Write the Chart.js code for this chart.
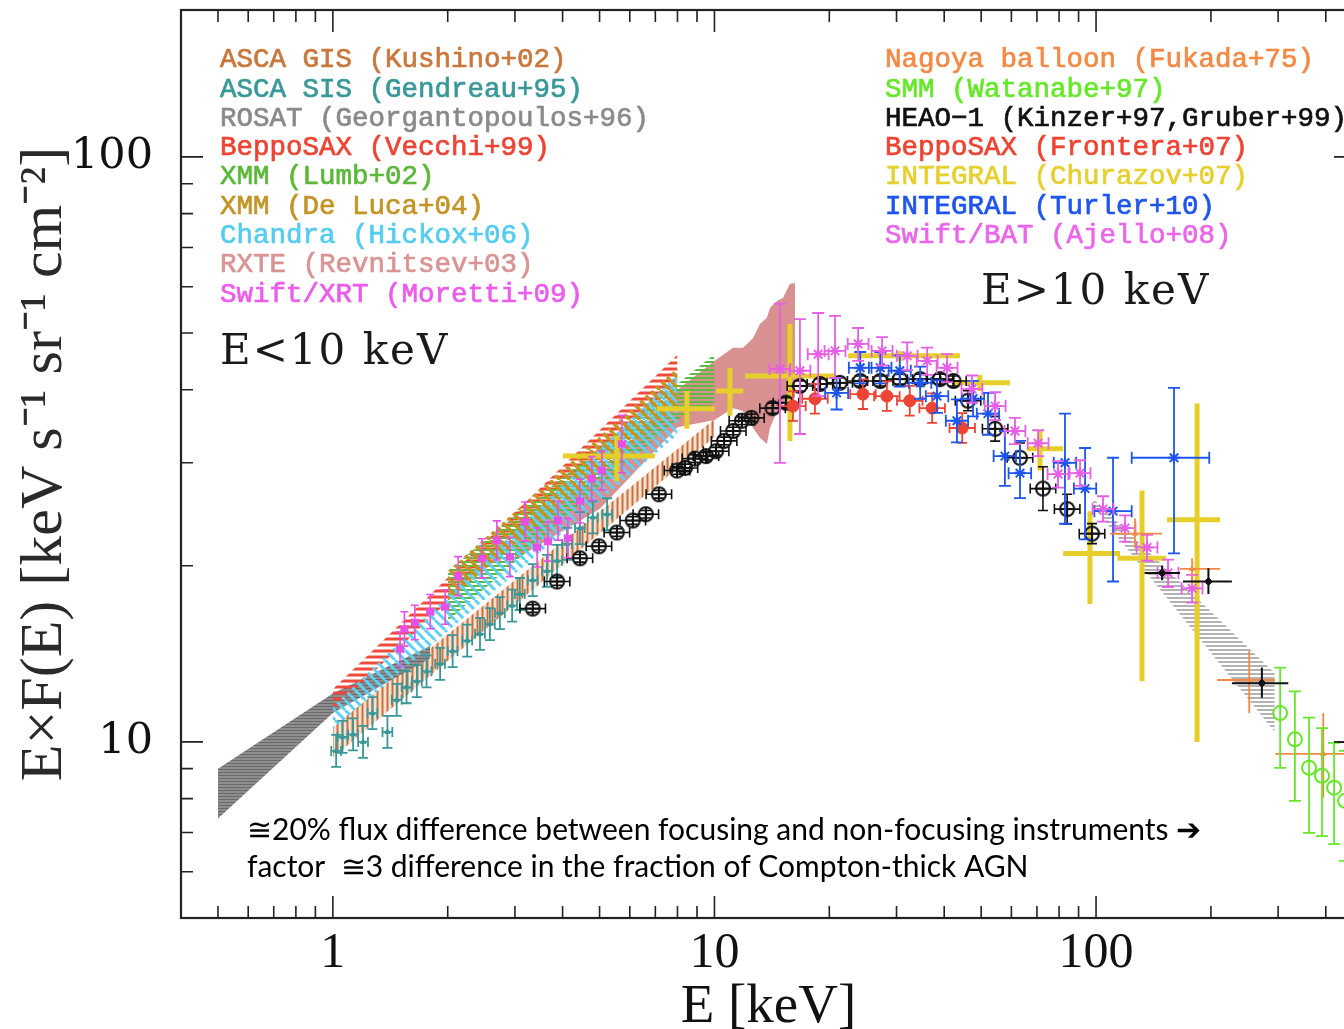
<!DOCTYPE html>
<html>
<head>
<meta charset="utf-8">
<script src="https://cdn.jsdelivr.net/npm/chart.js@4.4.1/dist/chart.umd.min.js"></script>
<style>
  html, body { margin: 0; padding: 0; background: #fff; overflow: hidden; width: 1344px; height: 1029px; }
  canvas { display: block; }
</style>
</head>
<body>
<canvas id="cxb" width="1370" height="1029" style="width:1370px;height:1029px"></canvas>
<script>
// ---- axis ticks ----
const xTicks = [0.5,0.6,0.7,0.8,0.9,1,2,3,4,5,6,7,8,9,10,20,30,40,50,60,70,80,90,100,200,300,400];
const xLabels = [1, 10, 100];
const yTicks = [6,7,8,9,10,20,30,40,50,60,70,80,90,100];
const yLabels = [10, 100];
const xRange = [0.4, 480];
const yRange = [5, 178.3];

// ---- bands (energy keV, lower / upper E F(E)) ----
const rosatE = [0.5, 1.0, 1.8];
const rosatLo = [7.4, 11.2, 13.9];
const rosatHi = [9.0, 12.1, 14.6];

const rxteE = [3, 5, 8, 10, 11.18, 11.88, 12.62, 13.16, 13.72, 13.98, 14.58, 15.12, 15.77, 16.26];
const rxteLo = [20.5, 25.0, 34.5, 35.5, 37.2, 36.8, 34.4, 33.1, 32.3, 34.4, 36.8, 37.8, 38.7, 38.7];
const rxteHi = [23.0, 28.5, 40.0, 44.8, 47.2, 47.2, 49.0, 51.8, 53.1, 55.2, 56.7, 57.4, 60.7, 60.9];

const gisE = [1, 10];
const gisLo = [9.4, 33.2];
const gisHi = [10.6, 35.6];

const vecchiE = [1, 8];
const vecchiLo = [11.3, 41.0];
const vecchiHi = [12.3, 45.9];

const lumbE = [2, 8, 10];
const lumbLo = [16.1, 35.6, 37.8];
const lumbHi = [19.6, 40.9, 46.0];

const delucaE = [2, 8];
const delucaLo = [17.4, 37.5];
const delucaHi = [19.6, 43.6];

const hickoxE = [1, 8];
const hickoxLo = [10.5, 33.5];
const hickoxHi = [11.5, 42.5];

const heaoBandE = [98, 200, 294];
const heaoBandLo = [25.3, 14.2, 10.4];
const heaoBandHi = [26.1, 16.7, 13.1];

// ---- data points ----
const sisE = [1.02,1.06,1.13,1.20,1.27,1.39,1.47,1.56,1.66,1.76,1.91,2.06,2.25,2.43,2.58,2.74,2.95,3.09,3.34,3.64,3.87,4.11,4.44,4.80,5.23];
const sisF = [9.65,10.2,10.3,10.0,11.2,10.4,11.8,12.4,12.7,13.2,13.6,14.3,14.9,15.3,15.9,16.6,17.1,17.9,18.9,19.6,20.4,21.8,23.2,24.2,24.5];

const xrtE = [1.50,1.54,1.64,1.80,1.97,2.13,2.46,2.69,2.91,3.19,3.43,3.66,3.89,4.13,4.44,4.77,5.07,5.72];
const xrtF = [14.4,15.6,16.0,16.7,17.0,19.2,20.6,22.1,20.7,23.8,21.5,22.0,23.9,22.3,25.8,28.2,29.1,32.3];
const xrtErr = [0.07,0.07,0.07,0.07,0.07,0.08,0.08,0.08,0.08,0.08,0.08,0.08,0.08,0.08,0.09,0.09,0.08,0.12];

const heaoE = [3.34,3.87,4.44,4.98,5.55,6.11,6.61,7.15,7.98,8.37,8.89,9.50,10.1,10.6,11.2,11.8,12.5,14.2,15.4,16.75,18.9,21.3,24.1,27.2,30.6,34.6,39.0,42.3,46.2,54.4,63.2,72.6,84.0,97.6];
const heaoF = [16.9,18.8,20.6,21.6,22.8,23.9,24.5,26.5,29.1,29.4,30.5,30.8,31.4,32.7,34.0,35.4,35.8,37.2,38.0,40.6,40.9,41.1,41.4,41.4,41.7,41.7,41.7,41.4,38.3,34.3,30.6,27.1,25.0,22.7];
const heaoErr = [0.015,0.015,0.015,0.015,0.015,0.015,0.015,0.015,0.015,0.015,0.015,0.015,0.015,0.015,0.015,0.015,0.015,0.02,0.02,0.02,0.02,0.02,0.02,0.02,0.02,0.02,0.02,0.02,0.04,0.05,0.06,0.09,0.06,0.04];

const heaoHiE = [149, 197, 272, 470];
const heaoHiF = [19.45, 18.8, 12.6, 10.0];
const heaoHiXlo = [134, 169, 227, 430];
const heaoHiXhi = [166, 227, 319, 560];
const heaoHiLo = [18.9, 17.9, 11.9, 9.6];
const heaoHiHi = [20.0, 19.8, 13.4, 10.4];

const batE = [14.85,16.75,18.7,20.7,23.8,27.5,32.0,36.1,40.7,47.3,54.4,61.3,70.5,79.5,90.8,104.3,119.1,136.0,154.4,178.5];
const batF = [43.4,43.1,46.0,46.6,47.9,46.6,45.7,44.8,43.6,40.1,37.5,34.0,32.4,28.7,28.8,25.0,23.2,21.5,19.45,18.3];
const batLo = [30.0,33.6,39.0,41.9,44.8,44.0,43.2,42.4,41.2,38.0,35.5,32.3,30.8,27.2,27.4,23.8,22.0,20.4,18.4,17.3];
const batHi = [56.1,52.8,54.1,53.5,51.0,49.2,48.2,47.2,46.0,42.3,39.6,35.8,34.1,30.2,30.3,26.3,24.4,22.6,20.5,19.3];

const frontE = [16.06,18.34,24.5,28.3,32.5,37.2,44.6];
const frontF = [37.5,38.6,39.3,39.0,38.3,37.2,34.4];

const turE = [20.9,24.1,27.2,30.6,34.6,38.3,43.2,47.6,52.1,57.7,63.2,82.9,93.6,110.8,160.1];
const turF = [39.5,43.6,43.6,43.1,41.1,39.0,35.4,38.6,36.4,30.8,28.8,30.0,27.1,24.8,30.6];
const turLo = [37.0,41.0,41.0,40.5,38.6,36.5,32.5,36.0,33.5,27.4,26.1,23.6,22.2,18.8,21.0];
const turHi = [41.9,46.4,46.4,45.8,43.8,41.5,38.5,41.4,39.5,34.0,32.7,36.4,31.8,30.6,40.3];
const turXlo = [19.5,22.5,25.4,28.6,32.3,35.8,40.4,44.5,48.7,53.9,59.0,77.5,87.5,99.0,124];
const turXhi = [22.4,25.8,29.1,32.7,37.0,41.0,46.2,50.9,55.7,61.7,67.6,88.7,100.1,124,198];

const chE = [5.55, 8.47, 10.98, 15.77, 30.64, 49.6, 71.3, 96.4, 132, 184];
const chF = [30.8, 37.1, 39.8, 42.2, 45.7, 41.1, 31.7, 21.0, 20.6, 23.97];
const chXlo = [4.01, 7.06, 10.1, 12.03, 22.4, 42.2, 66.0, 82.0, 113.8, 153.5];
const chXhi = [6.98, 10.03, 11.9, 20.7, 44.0, 59.5, 82.0, 115.6, 152.5, 211.4];
const chLo = [27.9, 34.3, 36.1, 32.7, 44.8, 39.8, 29.1, 17.2, 12.7, 10.0];
const chHi = [33.4, 39.8, 43.6, 51.8, 46.6, 42.4, 34.0, 24.8, 26.9, 37.9];

const ngE = [126.5, 178.5, 252, 394];
const ngF = [22.7, 19.76, 12.76, 9.54];
const ngXlo = [108.8, 166, 207.6, 294.6];
const ngXhi = [149, 211.4, 294.6, 490];
const ngLo = [21.4, 18.5, 11.2, 8.03];
const ngHi = [24.1, 20.6, 14.3, 11.2];

const smmE = [303.7, 332, 361.6, 391, 420.6, 449.5];
const smmF = [11.2, 10.1, 9.03, 8.75, 8.35, 7.93];
const smmLo = [9.03, 7.93, 6.99, 6.9, 6.69, 6.26];
const smmHi = [13.4, 12.2, 11.0, 10.56, 9.96, 9.65];

// ---- labels ----
const legendLeft = ['ASCA GIS (Kushino+02)', 'ASCA SIS (Gendreau+95)', 'ROSAT (Georgantopoulos+96)', 'BeppoSAX (Vecchi+99)',
  'XMM (Lumb+02)', 'XMM (De Luca+04)', 'Chandra (Hickox+06)', 'RXTE (Revnitsev+03)', 'Swift/XRT (Moretti+09)'];
const legendLeftColors = ['#c8783c', '#3a9898', '#8a8a8a', '#ee4433', '#5cb83a', '#c39426', '#55ccf0', '#d99494', '#ec5cec'];
const legendRight = ['Nagoya balloon (Fukada+75)', 'SMM (Watanabe+97)', 'HEAO\u22121 (Kinzer+97,Gruber+99)', 'BeppoSAX (Frontera+07)',
  'INTEGRAL (Churazov+07)', 'INTEGRAL (Turler+10)', 'Swift/BAT (Ajello+08)'];
const legendRightColors = ['#f28a45', '#66e82a', '#111111', '#ee4433', '#e6d030', '#1f55ee', '#ea66ea'];
const noteLines = ['\u224520% flux difference between focusing and non-focusing instruments \u2794',
  'factor  \u22453 difference in the fraction of Compton-thick AGN'];

const canvas = document.getElementById('cxb');
const mainCtx = canvas.getContext('2d');

function hatch(kind, color, gap, lw, bg, off) {
  const c = document.createElement('canvas');
  c.width = gap; c.height = gap;
  const g = c.getContext('2d');
  if (bg) { g.fillStyle = bg; g.fillRect(0, 0, gap, gap); }
  g.strokeStyle = color; g.lineWidth = lw;
  g.beginPath();
  const o = off || 0;
  if (kind === 'h') { g.moveTo(0, gap / 2); g.lineTo(gap, gap / 2); }
  else if (kind === 'v') { g.moveTo(gap / 2, 0); g.lineTo(gap / 2, gap); }
  else { for (const k of [-gap, 0, gap]) { g.moveTo(k + o, 0); g.lineTo(k + o + gap, gap); } }
  g.stroke();
  return mainCtx.createPattern(c, 'repeat');
}

function oplus(r, color) {
  const s = 2 * r + 4;
  const c = document.createElement('canvas');
  c.width = s; c.height = s;
  const g = c.getContext('2d');
  g.strokeStyle = color; g.lineWidth = 2;
  g.beginPath();
  g.arc(s / 2, s / 2, r, 0, 2 * Math.PI);
  g.moveTo(s / 2 - r, s / 2); g.lineTo(s / 2 + r, s / 2);
  g.moveTo(s / 2, s / 2 - r); g.lineTo(s / 2, s / 2 + r);
  g.stroke();
  return c;
}

const xy = (E, F) => E.map((e, i) => ({ x: e, y: F[i] }));
const grow = (arr, f) => arr.map((v, i) => v * (1 + (Array.isArray(f) ? f[i] : f)));
const shrink = (arr, f) => arr.map((v, i) => v / (1 + (Array.isArray(f) ? f[i] : f)));

function band(E, lo, hi, fillStyle) {
  return [
    { type: 'line', data: xy(E, lo), borderWidth: 0, borderColor: 'transparent', pointRadius: 0, fill: false },
    { type: 'line', data: xy(E, hi), borderWidth: 0, borderColor: 'transparent', pointRadius: 0, fill: '-1', backgroundColor: fillStyle }
  ];
}

function pts(E, F, opts, err) {
  return Object.assign({ type: 'scatter', data: xy(E, F), err: err }, opts);
}

const datasets = [
  ...band(rxteE, rxteLo, rxteHi, '#d99090'),
  ...band(gisE, gisLo, gisHi, hatch('v', '#c8703a', 5, 2, 'rgba(235,170,130,0.35)')),
  ...band(rosatE, rosatLo, rosatHi, hatch('h', '#6a6a6a', 3, 1, '#8e8e8e')),
  ...band(vecchiE, vecchiLo, vecchiHi, hatch('h', '#f04a3a', 6, 3)),
  ...band(lumbE, lumbLo, lumbHi, hatch('h', '#5cbb40', 4, 2)),
  ...band(delucaE, delucaLo, delucaHi, hatch('d', '#c39426', 10, 3.5)),
  ...band(hickoxE, hickoxLo, hickoxHi, hatch('d', '#5ed0f5', 10, 3, null, 5)),
  ...band(heaoBandE, heaoBandLo, heaoBandHi, hatch('h', '#9a9a9a', 4, 1.5)),
  pts(chE, chF, { pointRadius: 0.5, pointBackgroundColor: '#e6cf2a', borderColor: '#e6cf2a' },
    { xlo: chXlo, xhi: chXhi, ylo: chLo, yhi: chHi, width: 5, color: '#e6cf2a' }),
  pts(sisE, sisF, { pointStyle: 'triangle', pointRadius: 3, backgroundColor: '#3a9898', borderColor: '#3a9898' },
    { xlo: shrink(sisE, 0.03), xhi: grow(sisE, 0.03), ylo: shrink(sisF, 0.065), yhi: grow(sisF, 0.065), width: 1.8, color: '#3a9898', cap: 5 }),
  pts(heaoE, heaoF, { pointStyle: oplus(7, '#111'), pointRadius: 7 },
    { xlo: shrink(heaoE, 0.08), xhi: grow(heaoE, 0.08), ylo: shrink(heaoF, heaoErr), yhi: grow(heaoF, heaoErr), width: 1.6, color: '#111', cap: 5 }),
  pts(xrtE, xrtF, { pointStyle: 'rect', pointRadius: 4, backgroundColor: '#e650e6', borderColor: '#e650e6' },
    { xlo: shrink(xrtE, 0.02), xhi: grow(xrtE, 0.02), ylo: shrink(xrtF, xrtErr), yhi: grow(xrtF, xrtErr), width: 1.6, color: '#e650e6', cap: 4 }),
  pts(frontE, frontF, { pointStyle: 'circle', pointRadius: 6, backgroundColor: '#ee4433', borderColor: '#ee4433' },
    { xlo: shrink(frontE, 0.08), xhi: grow(frontE, 0.08), ylo: shrink(frontF, 0.06), yhi: grow(frontF, 0.06), width: 1.8, color: '#ee4433', cap: 5 }),
  pts(turE, turF, { pointStyle: 'star', pointRadius: 6, borderWidth: 2, borderColor: '#1f55ee' },
    { xlo: turXlo, xhi: turXhi, ylo: turLo, yhi: turHi, width: 1.8, color: '#1f55ee', cap: 6 }),
  pts(batE, batF, { pointStyle: 'star', pointRadius: 6, borderWidth: 2, borderColor: '#e660e6' },
    { xlo: shrink(batE, 0.065), xhi: grow(batE, 0.065), ylo: batLo, yhi: batHi, width: 1.8, color: '#e660e6', cap: 6 }),
  pts(ngE, ngF, { pointStyle: 'triangle', pointRadius: 3, backgroundColor: '#f28a45', borderColor: '#f28a45' },
    { xlo: ngXlo, xhi: ngXhi, ylo: ngLo, yhi: ngHi, width: 1.8, color: '#f28a45' }),
  pts(smmE, smmF, { pointStyle: 'circle', pointRadius: 7, borderWidth: 2, backgroundColor: 'rgba(0,0,0,0)', borderColor: '#66e82a' },
    { xlo: smmE, xhi: smmE, ylo: smmLo, yhi: smmHi, width: 1.8, color: '#66e82a', cap: 6 }),
  pts(heaoHiE, heaoHiF, { pointStyle: 'rectRot', pointRadius: 4, backgroundColor: '#111', borderColor: '#111' },
    { xlo: heaoHiXlo, xhi: heaoHiXhi, ylo: heaoHiLo, yhi: heaoHiHi, width: 2, color: '#111' })
];
datasets.forEach((d, i) => { d.order = datasets.length - i; });

const errorBars = {
  id: 'errorBars',
  beforeDatasetDraw(chart, args) {
    const ds = chart.data.datasets[args.index];
    const e = ds.err;
    if (!e) return;
    const { ctx, chartArea: a, scales: { x, y } } = chart;
    ctx.save();
    ctx.beginPath();
    ctx.rect(a.left, a.top, a.right - a.left, a.bottom - a.top);
    ctx.clip();
    ctx.strokeStyle = e.color;
    ctx.lineWidth = e.width;
    ctx.beginPath();
    ds.data.forEach((p, i) => {
      const px = x.getPixelForValue(p.x), py = y.getPixelForValue(p.y);
      const x0 = x.getPixelForValue(e.xlo[i]), x1 = x.getPixelForValue(e.xhi[i]);
      const y0 = y.getPixelForValue(e.ylo[i]), y1 = y.getPixelForValue(e.yhi[i]);
      ctx.moveTo(x0, py); ctx.lineTo(x1, py);
      ctx.moveTo(px, y0); ctx.lineTo(px, y1);
      if (e.cap) {
        const c = e.cap;
        if (x1 - x0 > 1) {
          ctx.moveTo(x0, py - c); ctx.lineTo(x0, py + c);
          ctx.moveTo(x1, py - c); ctx.lineTo(x1, py + c);
        }
        ctx.moveTo(px - c, y0); ctx.lineTo(px + c, y0);
        ctx.moveTo(px - c, y1); ctx.lineTo(px + c, y1);
      }
    });
    ctx.stroke();
    ctx.restore();
  }
};

const frame = {
  id: 'frame',
  afterDatasetsDraw(chart) {
    const { ctx, chartArea: a, scales: { x, y } } = chart;
    ctx.save();
    ctx.strokeStyle = '#222';
    ctx.lineWidth = 1.6;
    ctx.beginPath();
    xTicks.forEach(v => {
      const px = x.getPixelForValue(v);
      const L = xLabels.includes(v) ? 22 : 12;
      ctx.moveTo(px, a.bottom); ctx.lineTo(px, a.bottom - L);
      ctx.moveTo(px, a.top); ctx.lineTo(px, a.top + L);
    });
    yTicks.forEach(v => {
      const py = y.getPixelForValue(v);
      const L = yLabels.includes(v) ? 22 : 12;
      ctx.moveTo(a.left, py); ctx.lineTo(a.left + L, py);
      ctx.moveTo(a.right, py); ctx.lineTo(a.right - L, py);
    });
    ctx.stroke();
    ctx.lineWidth = 2.2;
    ctx.strokeRect(a.left, a.top, a.right - a.left, a.bottom - a.top);
    ctx.restore();
  }
};

const texts = {
  id: 'texts',
  afterDraw(chart) {
    const ctx = chart.ctx;
    ctx.save();
    ctx.textBaseline = 'middle';
    ctx.font = '27.5px "Liberation Mono"';
    ctx.lineWidth = 0.7;
    legendLeft.forEach((t, i) => {
      ctx.fillStyle = legendLeftColors[i]; ctx.strokeStyle = legendLeftColors[i];
      const yy = 60 + i * 29.3;
      ctx.fillText(t, 220, yy); ctx.strokeText(t, 220, yy);
    });
    legendRight.forEach((t, i) => {
      ctx.fillStyle = legendRightColors[i]; ctx.strokeStyle = legendRightColors[i];
      const yy = 60 + i * 29.3;
      ctx.fillText(t, 885, yy); ctx.strokeText(t, 885, yy);
    });
    ctx.textBaseline = 'alphabetic';
    ctx.fillStyle = '#1a1a1a';
    ctx.font = '42px "DejaVu Serif"';
    ctx.letterSpacing = '2px';
    ctx.fillText('E<10 keV', 220, 364);
    ctx.fillText('E>10 keV', 981, 304);
    ctx.letterSpacing = '0px';
    ctx.fillStyle = '#000';
    ctx.font = '30px Lato';
    ctx.fillText(noteLines[0], 247, 840);
    ctx.fillText(noteLines[1], 247, 877);
    ctx.restore();
  }
};

new Chart(canvas, {
  type: 'scatter',
  data: { datasets },
  options: {
    responsive: false,
    animation: false,
    devicePixelRatio: 1,
    layout: { padding: { left: 0, top: 10, right: 14, bottom: 0 } },
    plugins: { legend: { display: false }, tooltip: { enabled: false } },
    scales: {
      x: {
        type: 'logarithmic',
        min: xRange[0], max: xRange[1],
        afterBuildTicks: s => { s.ticks = [xRange[0], ...xTicks, xRange[1]].map(v => ({ value: v })); },
        afterFit: s => { s.height = 111; s.paddingLeft = 0; s.paddingRight = 0; },
        grid: { display: false, drawTicks: false },
        border: { display: false },
        ticks: {
          autoSkip: false, maxRotation: 0, padding: 6, color: '#111',
          font: { family: 'Liberation Serif', size: 50 },
          callback: v => (xLabels.includes(v) ? String(v) : '')
        },
        title: { display: true, text: 'E [keV]', color: '#111', font: { family: 'Liberation Serif', size: 55 }, padding: { top: 0, bottom: -12 } }
      },
      y: {
        type: 'logarithmic',
        min: yRange[0], max: yRange[1],
        afterBuildTicks: s => { s.ticks = [yRange[0], ...yTicks, yRange[1]].map(v => ({ value: v })); },
        afterFit: s => { s.width = 181; s.paddingTop = 0; s.paddingBottom = 0; },
        grid: { display: false, drawTicks: false },
        border: { display: false },
        ticks: {
          autoSkip: false, padding: 28, color: '#111',
          font: { family: 'DejaVu Serif', size: 43 },
          callback: v => (yLabels.includes(v) ? String(v) : '')
        },
        title: { display: true, text: 'E\u00d7F(E) [keV s\u207b\u00b9 sr\u207b\u00b9 cm\u207b\u00b2]', color: '#2a2a2a',
          font: { family: 'Liberation Serif', size: 60 }, padding: { top: 9, bottom: 0 } }
      }
    }
  },
  plugins: [errorBars, frame, texts]
});
</script>
</body>
</html>
